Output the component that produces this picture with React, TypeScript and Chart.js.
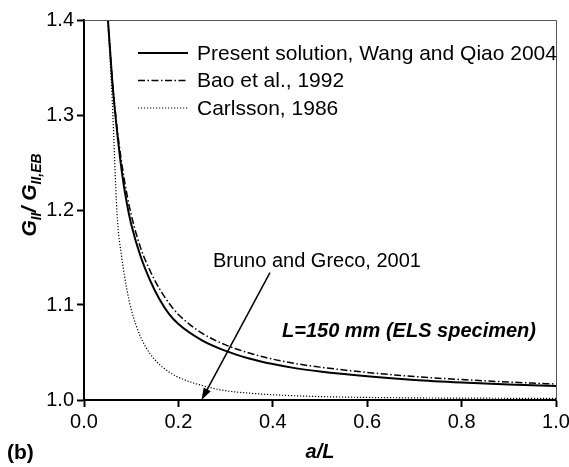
import React, { useEffect, useRef } from "react";
import { Chart, registerables } from "chart.js";

Chart.register(...registerables);

// a/L values (x) shared by all three curves
const aL = [0.05, 0.06, 0.07, 0.08, 0.09, 0.1, 0.12, 0.14, 0.16, 0.18, 0.2, 0.25, 0.3, 0.35, 0.4, 0.45, 0.5, 0.6, 0.7, 0.8, 0.9, 1.0];

// G_II / G_II,EB
const present = [1.406, 1.335, 1.283, 1.241, 1.209, 1.185, 1.151, 1.126, 1.106, 1.0906, 1.08, 1.0628, 1.0517, 1.0437, 1.0378, 1.0333, 1.03, 1.025, 1.0211, 1.0184, 1.0163, 1.0147];
const bao = [1.404, 1.337, 1.287, 1.249, 1.219, 1.195, 1.16, 1.136, 1.117, 1.102, 1.09, 1.0704, 1.058, 1.0494, 1.043, 1.0382, 1.0346, 1.029, 1.0247, 1.0215, 1.0189, 1.0168];
const carlsson = [1.404, 1.314, 1.196, 1.15, 1.1185, 1.0955, 1.0663, 1.0487, 1.0373, 1.0295, 1.0239, 1.0153, 1.0098, 1.0072, 1.0055, 1.0044, 1.0036, 1.0027, 1.0022, 1.002, 1.0018, 1.0017];

const seriesLabels = ["Present solution, Wang and Qiao 2004", "Bao et al., 1992", "Carlsson, 1986"];

const xRange = [0, 1];
const yRange = [1.0, 1.4];
const xStep = 0.2;
const yStep = 0.1;

const annotationText = "Bruno and Greco, 2001";
const arrowFrom = [0.394, 1.134];
const arrowTo = [0.249, 1.0];
const specimenText = "L=150 mm (ELS specimen)";
const panelLabel = "(b)";
const xTitle = "a/L";

const FONT = '"Liberation Sans", Arial, sans-serif';

const overlay = {
  id: "overlay",
  afterDatasetsDraw(chart: any) {
    const { ctx, chartArea: a, scales } = chart;
    const x = scales.x;
    const y = scales.y;
    ctx.save();

    // frame top/right
    ctx.strokeStyle = "#555";
    ctx.lineWidth = 1;
    ctx.beginPath();
    ctx.moveTo(a.left, a.top + 0.5);
    ctx.lineTo(a.right + 0.5, a.top + 0.5);
    ctx.lineTo(a.right + 0.5, a.bottom);
    ctx.stroke();

    // legend
    ctx.fillStyle = "#000";
    ctx.font = `21px ${FONT}`;
    ctx.textBaseline = "middle";
    ctx.textAlign = "left";
    chart.data.datasets.forEach((ds: any, i: number) => {
      const ly = 53 + i * 27.5;
      ctx.save();
      ctx.strokeStyle = "#000";
      ctx.lineWidth = ds.borderWidth;
      ctx.setLineDash(ds.borderDash || []);
      ctx.beginPath();
      ctx.moveTo(138, ly);
      ctx.lineTo(188, ly);
      ctx.stroke();
      ctx.restore();
      ctx.fillText(ds.label, 197, ly + 1);
    });

    // annotation text
    ctx.font = `20px ${FONT}`;
    ctx.fillText(annotationText, 213, 261);
    ctx.font = `italic bold 20px ${FONT}`;
    ctx.fillText(specimenText, 282, 331);

    // arrow
    const x1 = x.getPixelForValue(arrowFrom[0]);
    const y1 = y.getPixelForValue(arrowFrom[1]);
    const x2 = x.getPixelForValue(arrowTo[0]);
    const y2 = y.getPixelForValue(arrowTo[1]);
    const ang = Math.atan2(y2 - y1, x2 - x1);
    const hl = 12;
    const hw = 4;
    ctx.strokeStyle = "#000";
    ctx.lineWidth = 1.5;
    ctx.beginPath();
    ctx.moveTo(x1, y1);
    ctx.lineTo(x2 - Math.cos(ang) * hl * 0.8, y2 - Math.sin(ang) * hl * 0.8);
    ctx.stroke();
    ctx.beginPath();
    ctx.moveTo(x2, y2);
    ctx.lineTo(x2 - Math.cos(ang) * hl + Math.sin(ang) * hw, y2 - Math.sin(ang) * hl - Math.cos(ang) * hw);
    ctx.lineTo(x2 - Math.cos(ang) * hl - Math.sin(ang) * hw, y2 - Math.sin(ang) * hl + Math.cos(ang) * hw);
    ctx.closePath();
    ctx.fillStyle = "#000";
    ctx.fill();

    // x title
    ctx.font = `italic bold 20px ${FONT}`;
    ctx.textAlign = "center";
    ctx.textBaseline = "alphabetic";
    ctx.fillText(xTitle, (a.left + a.right) / 2, 458);

    // panel label
    ctx.font = `bold 21px ${FONT}`;
    ctx.textAlign = "left";
    ctx.fillText(panelLabel, 7, 459);

    // y title with subscripts
    const mainF = `italic bold 21px ${FONT}`;
    const subF = `italic bold 14px ${FONT}`;
    const pieces = [
      { t: "G", sub: false },
      { t: "II", sub: true },
      { t: "/ ", sub: false },
      { t: "G", sub: false },
      { t: "II,EB", sub: true },
    ];
    let total = 0;
    pieces.forEach((p) => {
      ctx.font = p.sub ? subF : mainF;
      total += ctx.measureText(p.t).width;
    });
    ctx.translate(36, 195);
    ctx.rotate(-Math.PI / 2);
    let cx = -total / 2;
    pieces.forEach((p) => {
      ctx.font = p.sub ? subF : mainF;
      ctx.fillText(p.t, cx, p.sub ? 5 : 0);
      cx += ctx.measureText(p.t).width;
    });

    ctx.restore();
  },
};

export default function App() {
  const ref = useRef<HTMLCanvasElement | null>(null);
  useEffect(() => {
    document.body.style.margin = "0";
    const canvas = ref.current!;
    const mk = (vals: number[]) => aL.map((v, i) => ({ x: v, y: vals[i] }));
    const chart = new Chart(canvas, {
      type: "line",
      data: {
        datasets: [
          { label: seriesLabels[0], data: mk(present), borderColor: "#000", borderWidth: 2, borderDash: [], pointRadius: 0, cubicInterpolationMode: "monotone", fill: false },
          { label: seriesLabels[1], data: mk(bao), borderColor: "#000", borderWidth: 1.5, borderDash: [7, 2.5, 1.5, 2.5], pointRadius: 0, cubicInterpolationMode: "monotone", fill: false },
          { label: seriesLabels[2], data: mk(carlsson), borderColor: "#000", borderWidth: 1.2, borderDash: [1.2, 1.8], pointRadius: 0, cubicInterpolationMode: "monotone", fill: false },
        ],
      },
      options: {
        animation: false,
        responsive: false,
        devicePixelRatio: 1,
        layout: { padding: { top: 20, right: 13, left: 0, bottom: 0 } },
        plugins: { legend: { display: false }, tooltip: { enabled: false } },
        scales: {
          x: {
            type: "linear",
            min: xRange[0],
            max: xRange[1],
            afterFit: (s: any) => {
              s.height = 67;
              s.paddingLeft = 0;
              s.paddingRight = 0;
            },
            border: { display: true, color: "#000", width: 2 },
            grid: { display: true, drawOnChartArea: false, drawTicks: true, tickLength: 7, tickWidth: 2, tickColor: "#000" },
            ticks: {
              stepSize: xStep,
              padding: 3,
              color: "#000",
              font: { family: FONT, size: 20 },
              maxRotation: 0,
              callback: (v: any) => Number(v).toFixed(1),
            },
          },
          y: {
            type: "linear",
            min: yRange[0],
            max: yRange[1],
            afterFit: (s: any) => {
              s.width = 84;
              s.paddingTop = 0;
              s.paddingBottom = 0;
            },
            border: { display: true, color: "#000", width: 2 },
            grid: { display: true, drawOnChartArea: false, drawTicks: true, tickLength: 7, tickWidth: 2, tickColor: "#000" },
            ticks: {
              stepSize: yStep,
              padding: 3,
              color: "#000",
              font: { family: FONT, size: 20 },
              callback: (v: any) => Number(v).toFixed(1),
            },
          },
        },
      },
      plugins: [overlay],
    });
    return () => chart.destroy();
  }, []);
  return (
    <div style={{ width: 569, height: 467 }}>
      <canvas ref={ref} width={569} height={467} style={{ display: "block" }} />
    </div>
  );
}
